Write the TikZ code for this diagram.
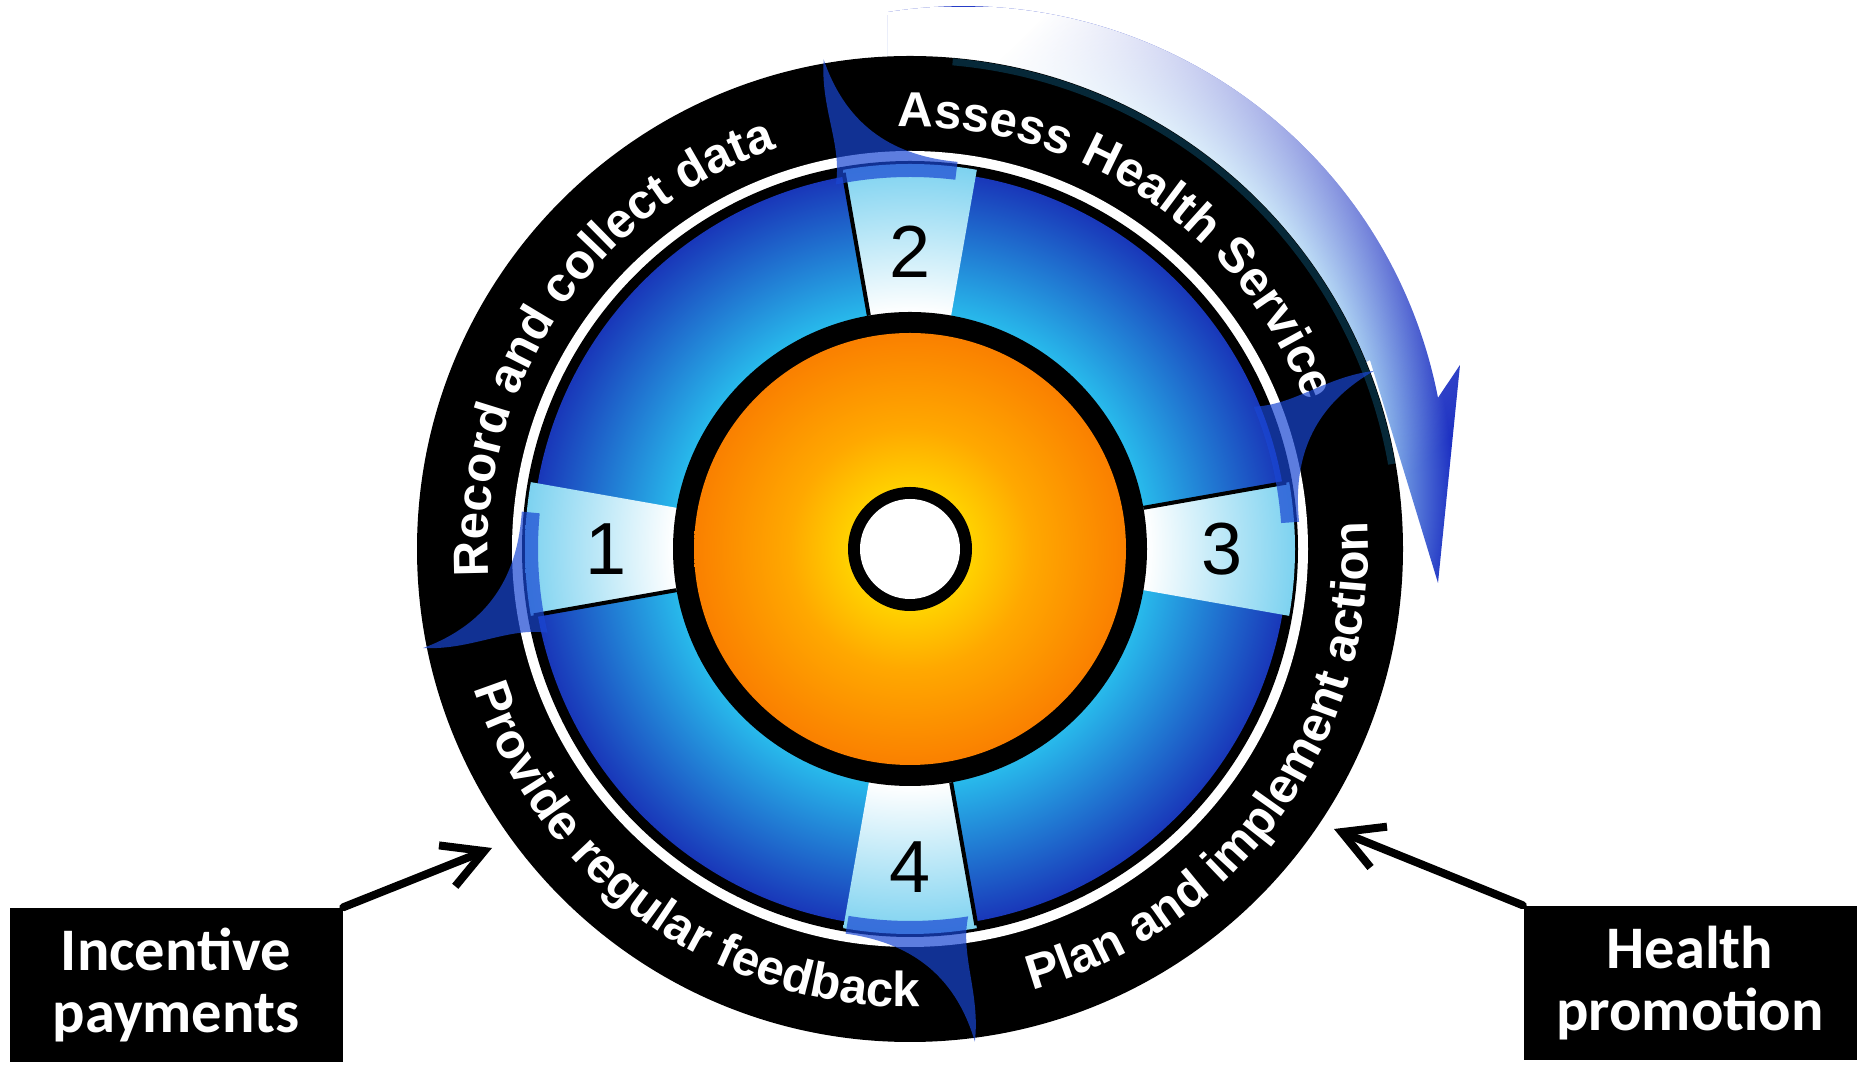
\documentclass[tikz,border=0pt]{standalone}
\usepackage{fontspec}
\newfontfamily\ringfont{Liberation Sans}
\newfontfamily\boxfont{Carlito}
\usetikzlibrary{arrows.meta,calc,decorations.text,fadings}

\definecolor{ringcyan}{RGB}{40,185,235}
\definecolor{ringblue}{RGB}{25,55,185}
\definecolor{segcyan}{RGB}{125,210,240}
\definecolor{coreyellow}{RGB}{255,222,0}
\definecolor{coremid}{RGB}{255,168,0}
\definecolor{coreorange}{RGB}{250,128,0}
\definecolor{swooshblue}{RGB}{25,70,210}
\definecolor{arrowblue}{RGB}{30,50,195}
\definecolor{arrowlight}{RGB}{160,215,245}
\definecolor{rimteal}{RGB}{6,40,56}

% tikz fits the path box to the middle 50bp of a shading
\pgfdeclareradialshading{bluering}{\pgfpoint{0bp}{0bp}}{color(0bp)=(ringcyan); color(15.7bp)=(ringcyan); color(25bp)=(ringblue); color(50bp)=(ringblue)}
\pgfdeclareradialshading{sector}{\pgfpoint{0bp}{0bp}}{color(0bp)=(white); color(15.4bp)=(white); color(25bp)=(segcyan); color(50bp)=(segcyan)}
\pgfdeclareradialshading{core}{\pgfpoint{0bp}{0bp}}{color(0bp)=(coreyellow); color(5bp)=(coreyellow); color(14bp)=(coremid); color(25bp)=(coreorange); color(50bp)=(coreorange)}
\pgfdeclareradialshading{arrowband}{\pgfpoint{0bp}{0bp}}{color(0bp)=(arrowlight); color(19.5bp)=(arrowlight); color(23.5bp)=(arrowblue); color(50bp)=(arrowblue)}
\tikzfading[name=arrowfade, top color=transparent!0, middle color=transparent!35, bottom color=transparent!100]

\newcommand\ringlabel{\color{white}\ringfont\bfseries\fontsize{14}{16}\selectfont}

\begin{document}
\begin{tikzpicture}[x=0.1mm, y=0.1mm,
    stepnum/.style={font=\ringfont\fontsize{21}{21}\selectfont, text=black, inner sep=0pt},
    infobox/.style={fill=black, text=white, align=center, inner sep=0pt,
      minimum width=33.3mm, minimum height=15.4mm,
      font=\boxfont\bfseries\fontsize{17.2}{17.5}\selectfont},
    pointer/.style={line width=0.8mm, line cap=round, -{Straight Barb[length=4mm, width=4.4mm]}},
    swoosh/.style={fill=swooshblue, fill opacity=0.7}]

    \useasboundingbox (0,0) rectangle (1862,1067);

    % wheel centre and centre of the cycle arrow
    \coordinate (O) at (910,518);
    \coordinate (C) at (963,577);

    % cycle arrow behind the wheel
    \begin{scope}
      \clip (888,1055) arc[start angle=98.9, end angle=11, radius=484]
        -- (1460,702) -- (1438,484) -- (1370,707)
        -- ($(O)+(22:470)$) arc[start angle=22, end angle=92.7, radius=470] -- cycle;
      \shade[shading=arrowband] (C) circle (520);
      \fill[white, path fading=arrowfade, fading angle=45] (880,480) rectangle (1470,1060);
    \end{scope}

    % black band, white line, blue ring
    \fill[black] (O) circle (493);
    \draw[rimteal, line width=0.7mm] ($(O)+(85:489)$) arc[start angle=85, end angle=10, radius=489];
    \fill[white] (O) circle (398);
    \fill[black] (O) circle (388);
    \shade[shading=bluering] (O) circle (378);

    % light sectors of the four steps
    \foreach \a in {0,90,180,270} {
      \begin{scope}
        \clip (O) -- ($(O)+(\a-10:385)$) arc[start angle=\a-10, end angle=\a+10, radius=385] -- cycle;
        \shade[shading=sector] (O) circle (385);
      \end{scope}
      \draw[line width=0.4mm] ($(O)+(\a+10:237)$) -- ($(O)+(\a+10:382)$);
    }

    % orange core
    \fill[black] (O) circle (237);
    \shade[shading=core] (O) circle (216);
    \fill[black] (O) circle (62);
    \fill[white] (O) circle (50);

    % step numbers
    \node[stepnum] (num1) at ($(O)+(180:304)$) {1};
    \node[stepnum] (num2) at ($(O)+(90:297)$) {2};
    \node[stepnum] (num3) at ($(O)+(0:312)$) {3};
    \node[stepnum] (num4) at ($(O)+(270:318)$) {4};

    % labels on the black band
    \path[decorate, decoration={text along path, text align=center,
      text={|\ringlabel|Record and collect data}}]
      ($(O)+(196:422)$) arc[start angle=196, end angle=96, radius=422];
    \path[decorate, decoration={text along path, text align=center,
      text={|\ringlabel|Assess Health Service}}]
      ($(O)+(106:422)$) arc[start angle=106, end angle=6, radius=422];
    \path[decorate, decoration={text along path, text align=center,
      text={|\ringlabel|Plan and implement action}}]
      ($(O)+(-85.5:458)$) arc[start angle=-85.5, end angle=14.5, radius=458];
    \path[decorate, decoration={text along path, text align=center,
      text={|\ringlabel|Provide regular feedback}}]
      ($(O)+(184.5:458)$) arc[start angle=184.5, end angle=284.5, radius=458];

    % blue swooshes between the stages
    \foreach \a in {100,21,-82.5,191.5}
      \fill[swoosh, shift={(O)}, rotate=\a] (0:497) .. controls (1.5:450) and (-0.5:410) .. (1.5:372)
        arc[start angle=1.5, end angle=-17, radius=372] -- (-17:390)
        .. controls (-8:393) and (-1.5:425) .. cycle;

    % boxes and pointers
    \node[infobox] (incentive) at (176,82) {Incentive\\payments};
    \node[infobox] (promotion) at (1690,84) {Health\\promotion};
    \coordinate (incentivetip) at (492,219);
    \coordinate (promotiontip) at (1334,238);
    \draw[pointer] (incentive.north east) -- (incentivetip);
    \draw[pointer] (promotion.north west) -- (promotiontip);

\end{tikzpicture}
\end{document}
